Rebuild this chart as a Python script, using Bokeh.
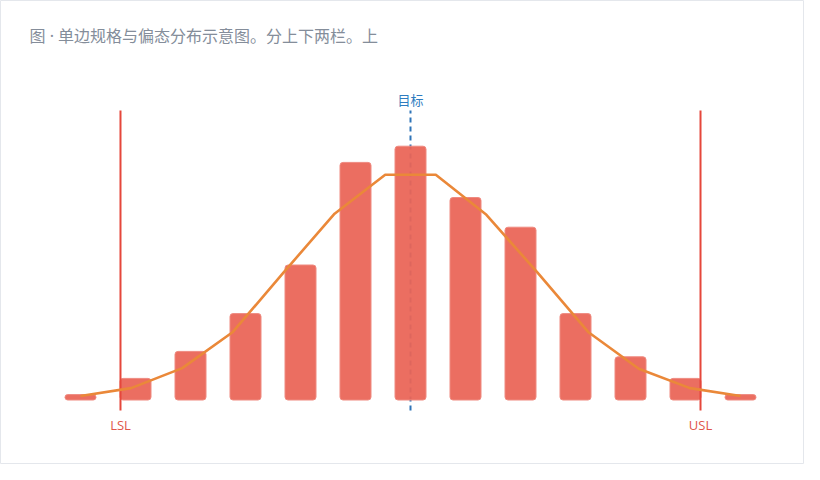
from bokeh.plotting import figure
from bokeh.models import Label, Range1d
from bokeh.embed import file_html
from bokeh.resources import INLINE

# ---- data ----
bins = list(range(13))
counts = [1, 4, 9, 16, 25, 44, 47, 37.5, 32, 16, 8, 4, 1]
curve_x = [0, 0.92, 1.85, 2.77, 3.69, 4.62, 5.54, 6.46, 7.38, 8.31, 9.23, 10.15, 11.08, 12]
curve_y = [0.74, 2.2, 5.9, 12.6, 23.6, 34.5, 41.7, 41.7, 34.3, 23.6, 12.6, 5.8, 2.2, 0.74]
LSL = 0.727
USL = 11.273
TARGET = 6.0
spec_labels = ["LSL", "USL"]
target_label = "目标"
title_text = "图 · 单边规格与偏态分布示意图。分上下两栏。上"

# ---- layout helpers (screen pixel -> data) ----
W, H = 804, 464
OX, OY = 0, 0
X0, DX = 80, 55.0      # screen x of bin 0, px per bin
Y0, DY = 399.5, 5.4    # screen y of zero, px per count

def dx(sx):
    return (sx - X0) / DX

def dy(sy):
    return (Y0 - sy) / DY

p = figure(width=W, height=H, output_backend="svg", toolbar_location=None,
           x_range=Range1d(dx(OX), dx(OX + W)), y_range=Range1d(dy(OY + H), dy(OY)),
           min_border=0, min_border_left=0, min_border_right=0,
           min_border_top=0, min_border_bottom=0)
p.axis.visible = False
p.grid.visible = False
p.background_fill_color = "white"
p.border_fill_color = "white"
p.outline_line_color = "#e4e7ec"
p.outline_line_width = 1

line_top = dy(110)
line_bot = dy(410)

# target (under bars)
p.segment(x0=[TARGET], y0=[line_bot], x1=[TARGET], y1=[line_top],
          line_color="#2f74b8", line_width=2, line_dash="5 4")

# bars
p.vbar(x=bins, top=counts, bottom=0, width=31 / DX,
       fill_color="#ea6557", fill_alpha=0.94,
       line_color="#ef8a80", line_width=1, border_radius=3)

# spec limits
p.segment(x0=[LSL, USL], y0=[line_bot, line_bot], x1=[LSL, USL], y1=[line_top, line_top],
          line_color="#e5473b", line_width=2)

# fitted curve
p.line(curve_x, curve_y, line_color="#ea8839", line_width=2.6)

# labels
for xv, lab in zip([LSL, USL], spec_labels):
    p.add_layout(Label(x=xv, y=dy(424), text=lab, text_align="center",
                       text_baseline="middle", text_font_size="13px",
                       text_font="Open Sans", text_color="#e0564b"))

p.add_layout(Label(x=TARGET, y=dy(99), text=target_label, text_align="center",
                   text_baseline="middle", text_font_size="13px",
                   text_font="Noto Sans CJK SC", text_color="#2f7cc0"))

p.add_layout(Label(x=dx(29), y=dy(35.5), text=title_text, text_align="left",
                   text_baseline="middle", text_font_size="16px",
                   text_font="Noto Sans, Noto Sans CJK SC", text_color="#848d9a"))

open("out.html", "w").write(file_html(p, INLINE))
